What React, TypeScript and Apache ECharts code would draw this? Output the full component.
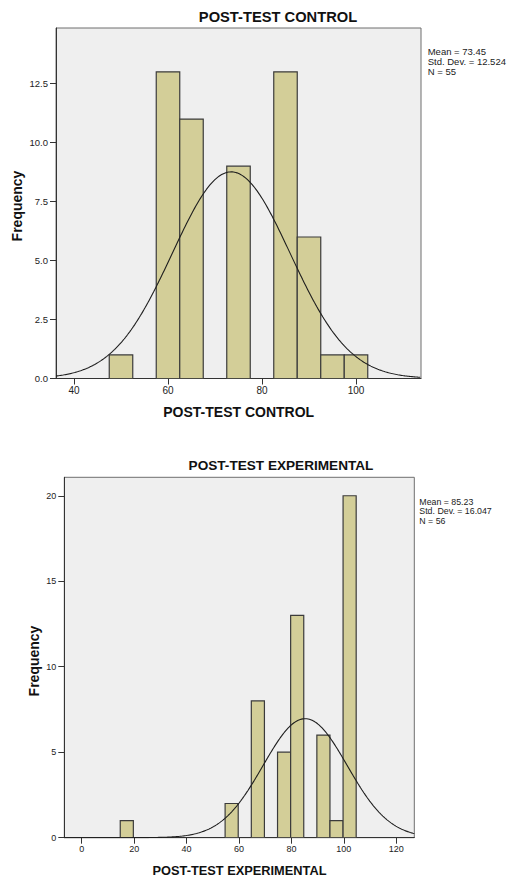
import React, { useEffect, useRef } from "react";
import * as echarts from "echarts";

// ---- data ----
const BIN_WIDTH = 5;

const controlTitle = "POST-TEST CONTROL";
const controlBinStarts = [47.5, 57.5, 62.5, 72.5, 82.5, 87.5, 92.5, 97.5];
const controlCounts = [1, 13, 11, 9, 13, 6, 1, 1];
const controlMean = 73.45;
const controlSD = 12.524;
const controlN = 55;
const controlXTicks = [40, 60, 80, 100];
const controlYTicks = [0, 2.5, 5, 7.5, 10, 12.5];

const expTitle = "POST-TEST EXPERIMENTAL";
const expBinStarts = [14.7, 54.7, 64.7, 74.7, 79.7, 89.7, 94.7, 99.7];
const expCounts = [1, 2, 8, 5, 13, 6, 1, 20];
const expMean = 85.23;
const expSD = 16.047;
const expN = 56;
const expXTicks = [0, 20, 40, 60, 80, 100, 120];
const expYTicks = [0, 5, 10, 15, 20];

// fitted normal curve (from the displayed mean, SD and N)
function normalCurve(mean: number, sd: number, n: number, lo: number, hi: number) {
  const pts: number[][] = [];
  const k = (n * BIN_WIDTH) / (sd * Math.sqrt(2 * Math.PI));
  for (let x = lo; x <= hi + 1e-9; x += 0.25) {
    pts.push([x, k * Math.exp(-((x - mean) ** 2) / (2 * sd * sd))]);
  }
  return pts;
}

const FONT = "'Liberation Sans', Arial, Helvetica, sans-serif";
const BAR_FILL = "#D3CE98";
const BAR_STROKE = "#3b3b3b";

export default function App() {
  const ref = useRef<HTMLDivElement>(null);

  useEffect(() => {
    if (!ref.current) return;
    const chart = echarts.init(ref.current, undefined, { renderer: "svg" });

    const renderBar = (params: any, api: any) => {
      const s = api.coord([api.value(0), api.value(2)]);
      const e = api.coord([api.value(1), 0]);
      return {
        type: "rect",
        shape: { x: s[0], y: s[1], width: e[0] - s[0], height: e[1] - s[1] },
        style: { fill: BAR_FILL, stroke: BAR_STROKE, lineWidth: 1.2 },
      };
    };

    const topX = { min: 36.17, max: 113.83 };
    const botX = { min: -6.64, max: 126.87 };

    const mkAxis = (
      gridIndex: number,
      min: number,
      max: number,
      ticks: number[],
      fontSize: number,
      tickLen: number,
      margin: number,
      formatter?: (v: number) => string
    ) => ({
      type: "value",
      gridIndex,
      min,
      max,
      axisLine: { show: true, onZero: false, lineStyle: { color: "#333", width: 1 } },
      axisTick: { show: true, inside: false, length: tickLen, lineStyle: { color: "#333" }, customValues: ticks },
      splitLine: { show: false },
      axisLabel: {
        color: "#222",
        fontSize,
        fontFamily: FONT,
        margin,
        customValues: ticks,
        ...(formatter ? { formatter } : {}),
      },
    });

    const option: any = {
      animation: false,
      backgroundColor: "#ffffff",
      grid: [
        {
          left: 56,
          width: 365,
          top: 28,
          height: 350.5,
          show: true,
          backgroundColor: "#EFEFEF",
          borderColor: "#6f6f6f",
          borderWidth: 1,
        },
        {
          left: 64.3,
          width: 350,
          top: 477.3,
          height: 360.4,
          show: true,
          backgroundColor: "#EFEFEF",
          borderColor: "#6f6f6f",
          borderWidth: 1,
        },
      ],
      xAxis: [
        mkAxis(0, topX.min, topX.max, controlXTicks, 10, 6, 7),
        mkAxis(1, botX.min, botX.max, expXTicks, 9, 6, 7),
      ],
      yAxis: [
        mkAxis(0, 0, 14.86, controlYTicks, 9.5, 6, 8, (v: number) => v.toFixed(1)),
        mkAxis(1, 0, 21.08, expYTicks, 9, 6, 8),
      ],
      series: [
        {
          type: "custom",
          xAxisIndex: 0,
          yAxisIndex: 0,
          renderItem: renderBar,
          encode: { x: [0, 1], y: 2 },
          data: controlBinStarts.map((s, i) => [s, s + BIN_WIDTH, controlCounts[i]]),
          clip: true,
        },
        {
          type: "line",
          xAxisIndex: 0,
          yAxisIndex: 0,
          showSymbol: false,
          symbol: "none",
          clip: true,
          lineStyle: { color: "#1e1e1e", width: 1.1 },
          data: normalCurve(controlMean, controlSD, controlN, topX.min, topX.max),
          z: 5,
        },
        {
          type: "custom",
          xAxisIndex: 1,
          yAxisIndex: 1,
          renderItem: renderBar,
          encode: { x: [0, 1], y: 2 },
          data: expBinStarts.map((s, i) => [s, s + BIN_WIDTH, expCounts[i]]),
          clip: true,
        },
        {
          type: "line",
          xAxisIndex: 1,
          yAxisIndex: 1,
          showSymbol: false,
          symbol: "none",
          clip: true,
          lineStyle: { color: "#1e1e1e", width: 1.1 },
          data: normalCurve(expMean, expSD, expN, botX.min, botX.max),
          z: 5,
        },
      ],
      graphic: [
        {
          type: "text",
          x: 278,
          y: 17.2,
          style: {
            text: controlTitle,
            fontSize: 14.7,
            fontWeight: "bold",
            fontFamily: FONT,
            fill: "#111",
            align: "center",
            verticalAlign: "middle",
          },
        },
        {
          type: "text",
          x: 238.7,
          y: 411.7,
          style: {
            text: controlTitle,
            fontSize: 14,
            fontWeight: "bold",
            fontFamily: FONT,
            fill: "#111",
            align: "center",
            verticalAlign: "middle",
          },
        },
        {
          type: "text",
          x: 16.5,
          y: 206,
          rotation: Math.PI / 2,
          style: {
            text: "Frequency",
            fontSize: 14,
            fontWeight: "bold",
            fontFamily: FONT,
            fill: "#111",
            align: "center",
            verticalAlign: "middle",
          },
        },
        {
          type: "text",
          x: 427.7,
          y: 47,
          style: {
            text: `Mean = ${controlMean.toFixed(2)}\nStd. Dev. = ${controlSD.toFixed(3)}\nN = ${controlN}`,
            fontSize: 9.5,
            lineHeight: 9.7,
            fontFamily: FONT,
            fill: "#222",
            align: "left",
            verticalAlign: "top",
          },
        },
        {
          type: "text",
          x: 281,
          y: 465.8,
          style: {
            text: expTitle,
            fontSize: 13.6,
            fontWeight: "bold",
            fontFamily: FONT,
            fill: "#111",
            align: "center",
            verticalAlign: "middle",
          },
        },
        {
          type: "text",
          x: 239.5,
          y: 870.5,
          style: {
            text: expTitle,
            fontSize: 12.8,
            fontWeight: "bold",
            fontFamily: FONT,
            fill: "#111",
            align: "center",
            verticalAlign: "middle",
          },
        },
        {
          type: "text",
          x: 34,
          y: 661,
          rotation: Math.PI / 2,
          style: {
            text: "Frequency",
            fontSize: 14,
            fontWeight: "bold",
            fontFamily: FONT,
            fill: "#111",
            align: "center",
            verticalAlign: "middle",
          },
        },
        {
          type: "text",
          x: 419.3,
          y: 497.5,
          style: {
            text: `Mean = ${expMean.toFixed(2)}\nStd. Dev. = ${expSD.toFixed(3)}\nN = ${expN}`,
            fontSize: 8.8,
            lineHeight: 9.3,
            fontFamily: FONT,
            fill: "#222",
            align: "left",
            verticalAlign: "top",
          },
        },
      ],
    };

    chart.setOption(option);
    return () => chart.dispose();
  }, []);

  return (
    <div
      ref={ref}
      style={{ position: "absolute", left: 0, top: 0, width: 507, height: 879, background: "#fff" }}
    />
  );
}
